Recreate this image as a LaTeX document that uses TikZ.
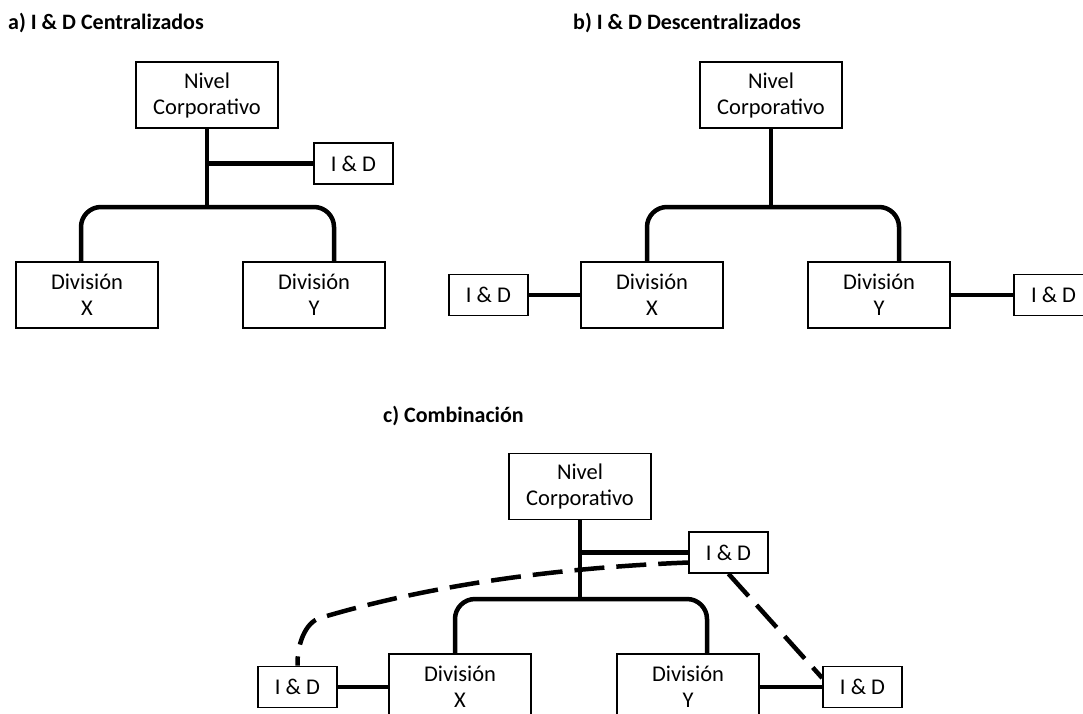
\documentclass[tikz,border=0pt]{standalone}
\usepackage{fontspec}
\setmainfont{Carlito}
\usetikzlibrary{calc}
\begin{document}
\begin{tikzpicture}[x=1pt,y=-1pt,
  unit/.style={draw, line width=1.6pt, inner sep=0pt, align=center,
    minimum width=142pt, minimum height=66pt, font=\fontsize{22.5}{26}\selectfont},
  rdbox/.style={draw, line width=1.6pt, inner sep=0pt, align=center,
    minimum width=79pt, minimum height=41pt, font=\fontsize{22.5}{26}\selectfont},
  heading/.style={anchor=base west, inner sep=0pt, font=\bfseries\fontsize{22}{26}\selectfont},
  link/.style={line width=4.5pt},
  softlink/.style={line width=4.5pt, dash pattern=on 30pt off 12pt},
  tree/.style={link, rounded corners=20pt}]
\fill[white] (0,0) rectangle (1083,713);
\useasboundingbox (0,0) rectangle (1083,713);

% ---------- a) centralised ----------
\node[heading] (ta) at (8,29) {a) I \& D Centralizados};
\node[unit] (na) at (207,95) {Nivel\\Corporativo};
\node[rdbox] (ida) at (353.5,163.5) {I \& D};
\node[unit] (dxa) at (87,295) {División\\X};
\node[unit] (dya) at (314,295) {División\\Y};
\coordinate (ja) at (207,207);
\draw[link] (na.south) -- (ja);
\draw[link] (na.south |- ida.west) -- (ida.west);
\draw[tree] ([xshift=-6pt]dxa.north) |- (ja) -| ([xshift=20pt]dya.north);

% ---------- b) decentralised ----------
\node[heading] (tb) at (573,29) {b) I \& D Descentralizados};
\node[unit] (nb) at (771,95) {Nivel\\Corporativo};
\node[unit] (dxb) at (652,295) {División\\X};
\node[unit] (dyb) at (879,295) {División\\Y};
\node[rdbox] (idlb) at (488.5,295) {I \& D};
\node[rdbox] (idrb) at (1053.5,295) {I \& D};
\coordinate (jb) at (771,207);
\draw[link] (nb.south) -- (jb);
\draw[tree] ([xshift=-5pt]dxb.north) |- (jb) -| ([xshift=20pt]dyb.north);
\draw[link] (idlb.east) -- (dxb.west);
\draw[link] (dyb.east) -- (idrb.west);

% ---------- c) combination ----------
\node[heading] (tc) at (383,422) {c) Combinación};
\node[unit] (nc) at (580,486.5) {Nivel\\Corporativo};
\node[rdbox] (idmc) at (728.5,552.5) {I \& D};
\node[unit] (dxc) at (460,687) {División\\X};
\node[unit] (dyc) at (688,687) {División\\Y};
\node[rdbox] (idlc) at (297.5,687) {I \& D};
\node[rdbox] (idrc) at (862.5,687) {I \& D};
\coordinate (jc) at (580,599);
\draw[link] (nc.south) -- (jc);
\draw[link] (nc.south |- idmc.west) -- (idmc.west);
\draw[tree] ([xshift=-5pt]dxc.north) |- (jc) -| ([xshift=19pt]dyc.north);
\draw[link] (idlc.east) -- (dxc.west);
\draw[link] (dyc.east) -- (idrc.west);
\draw[softlink] ([yshift=-10pt]idmc.west)
  .. controls (500,570) and (380,600) .. (320,618)
  .. controls (305,622.5) and (297,645) .. (idlc.north);
\draw[softlink] (idmc.south) -- ([yshift=9pt]idrc.west);
\end{tikzpicture}
\end{document}
